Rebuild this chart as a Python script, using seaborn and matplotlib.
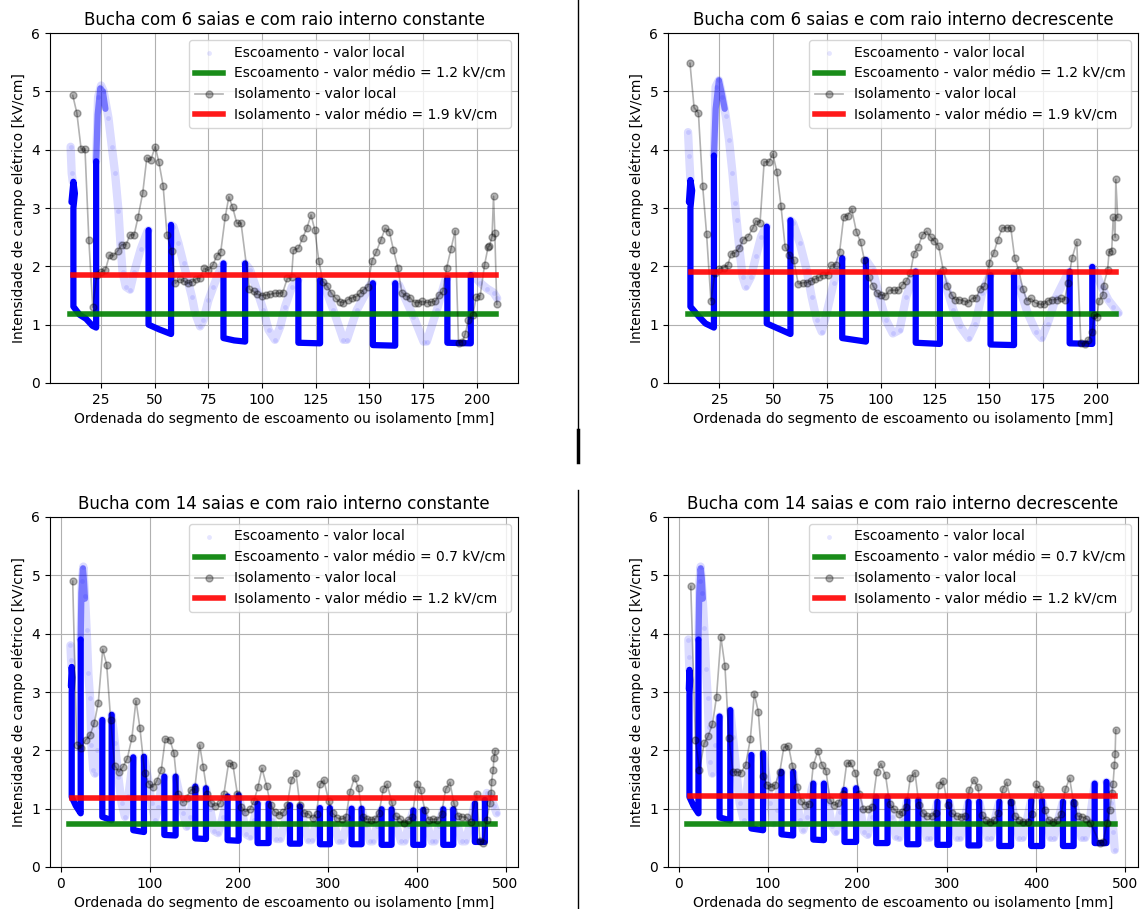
import numpy as np
import matplotlib
matplotlib.use("Agg")
import matplotlib.pyplot as plt
from matplotlib.lines import Line2D
import seaborn as sns

plt.rcParams["font.size"] = 10

titles = [
    "Bucha com 6 saias e com raio interno constante",
    "Bucha com 6 saias e com raio interno decrescente",
    "Bucha com 14 saias e com raio interno constante",
    "Bucha com 14 saias e com raio interno decrescente",
]
xlabel = "Ordenada do segmento de escoamento ou isolamento [mm]"
ylabel = "Intensidade de campo elétrico [kV/cm]"

# mean values (kV/cm)
esc_means = [1.18, 1.18, 0.73, 0.74]
iso_means = [1.86, 1.91, 1.18, 1.22]
top_esc_span = [10.6, 208.8]
top_iso_span = [12.0, 208.8]
bot_esc_span = [9.5, 488.2]
bot_iso_span = [13.0, 488.2]

# ---------------- 6 saias, raio constante ----------------
tl_iso = [(11.8, 4.93), (13.7, 4.63), (15.7, 4.01), (17.5, 4.01), (19.3, 2.45), (21.1, 1.30),
          (23.0, 1.86), (25.0, 1.90), (27.0, 1.94), (28.9, 2.19), (30.7, 2.18), (32.8, 2.27),
          (34.6, 2.37), (36.6, 2.37), (38.5, 2.54), (40.4, 2.54), (42.2, 2.84), (44.4, 3.26),
          (46.3, 3.86), (48.1, 3.82), (50.2, 4.05), (51.9, 3.79), (53.9, 3.38), (55.7, 2.54),
          (57.8, 2.26), (59.6, 1.71), (61.6, 1.78), (63.5, 1.75), (65.4, 1.71), (67.2, 1.73),
          (69.3, 1.79), (71.1, 1.80), (73.0, 1.97), (75.0, 1.93), (77.0, 2.02), (78.9, 2.18),
          (80.7, 2.24), (82.8, 2.84), (84.5, 3.19), (86.3, 3.01), (88.2, 2.74), (90.2, 2.74),
          (94.1, 1.61), (96.0, 1.57), (97.8, 1.52), (100.0, 1.50), (102.0, 1.51), (103.9, 1.52),
          (105.9, 1.54), (108.1, 1.54), (109.6, 1.55), (111.8, 1.80), (113.7, 1.81), (114.6, 2.28),
          (116.9, 2.31), (118.9, 2.49), (120.8, 2.65), (122.8, 2.88), (124.5, 2.63), (126.4, 2.10),
          (128.3, 1.74), (130.3, 1.66), (132.3, 1.54), (134.3, 1.45), (136.2, 1.39), (137.9, 1.38),
          (139.9, 1.43), (141.8, 1.46), (143.8, 1.48), (145.7, 1.54), (147.2, 1.60), (149.2, 1.65),
          (151.2, 2.10), (153.1, 2.24), (155.3, 2.45), (157.3, 2.65), (159.3, 2.59), (161.2, 2.28),
          (163.2, 1.98), (165.1, 1.55), (166.9, 1.50), (168.9, 1.46), (171.0, 1.38), (172.8, 1.38),
          (174.7, 1.40), (176.7, 1.38), (178.6, 1.39), (180.6, 1.40), (182.5, 1.51), (184.2, 1.57),
          (186.0, 1.98), (188.0, 2.30), (189.9, 2.61), (191.5, 0.69), (193.3, 0.71), (194.6, 0.84),
          (196.1, 1.08), (198.1, 1.16), (199.7, 1.47), (201.6, 1.50), (203.6, 2.02), (205.3, 2.34),
          (205.9, 2.35), (207.1, 2.51), (207.8, 3.20), (208.4, 2.58), (209.3, 1.35)]
tl_dense = [
    [(11.2, 3.1), (12.1, 3.45), (12.8, 3.25), (12.1, 3.0), (12.1, 1.31), (15.0, 1.17),
     (18.0, 1.10), (21.0, 0.98), (22.7, 0.95), (22.7, 3.8)],
    [(47.1, 2.62), (47.1, 1.00), (52.0, 0.92), (57.6, 0.84), (57.6, 2.71)],
    [(82.0, 2.05), (82.0, 0.77), (87.0, 0.73), (92.1, 0.71), (92.1, 2.05)],
    [(116.9, 1.77), (116.9, 0.69), (127.0, 0.68), (127.0, 1.77)],
    [(151.6, 1.71), (151.6, 0.65), (162.0, 0.64), (162.0, 1.71)],
    [(186.3, 1.80), (186.3, 0.69), (197.2, 0.68), (197.2, 1.85)],
]
tl_peak = [[(22.7, 3.8), (23.4, 4.6), (24.6, 5.05), (25.8, 5.0), (27.0, 4.7)]]
tl_sparse = [
    [(10.8, 4.05), (11.3, 3.6), (11.8, 3.45)],
    [(22.7, 3.8), (23.6, 4.9), (25.0, 5.1), (26.2, 5.0), (28.4, 4.55), (30.0, 4.05), (31.5, 3.6),
     (33.1, 2.95), (34.0, 2.4), (35.0, 1.9), (36.5, 1.65), (38.5, 1.6), (40.4, 1.9), (43.5, 2.3),
     (46.6, 2.6), (47.1, 2.62)],
    [(57.6, 2.71), (58.7, 2.68), (61.0, 2.4), (63.4, 2.05), (65.7, 1.71), (67.3, 1.48), (68.8, 1.2),
     (71.1, 0.97), (72.7, 1.08), (75.0, 1.42), (77.3, 1.65), (79.7, 1.88), (82.0, 2.05)],
    [(92.1, 2.05), (94.4, 1.94), (97.5, 1.6), (100.6, 1.25), (103.0, 0.91), (106.0, 0.74),
     (108.4, 0.96), (110.7, 1.31), (113.9, 1.65), (116.9, 1.77)],
    [(127.0, 1.77), (128.6, 1.71), (133.2, 1.25), (137.9, 0.74), (139.5, 0.74), (144.1, 1.25),
     (150.3, 1.68), (151.6, 1.71)],
    [(162.0, 1.71), (163.8, 1.68), (170.5, 1.14), (175.2, 0.71), (176.7, 0.71), (181.4, 1.25),
     (185.4, 1.77), (186.3, 1.80)],
    [(197.2, 1.85), (198.4, 1.85), (201.5, 1.72), (204.7, 1.62), (207.8, 1.55), (209.5, 1.45)],
]

# ---------------- 6 saias, raio decrescente ----------------
tr_iso = [(11.4, 5.48), (13.3, 4.72), (15.3, 4.63), (17.3, 3.37), (19.1, 2.55), (21.1, 1.41),
          (23.0, 1.89), (25.0, 1.96), (27.0, 1.98), (28.9, 2.02), (30.5, 2.22), (32.3, 2.23),
          (34.2, 2.31), (36.1, 2.46), (38.3, 2.51), (40.5, 2.65), (42.0, 2.78), (43.9, 2.75),
          (45.8, 3.79), (48.0, 3.79), (49.8, 3.93), (51.7, 3.62), (53.6, 3.04), (55.5, 2.34),
          (57.5, 2.19), (59.5, 2.11), (61.6, 1.70), (63.6, 1.72), (65.5, 1.72), (67.3, 1.75),
          (69.2, 1.78), (71.1, 1.81), (73.3, 1.85), (75.2, 1.85), (77.0, 2.02), (78.9, 2.03),
          (80.8, 2.25), (82.7, 2.85), (84.5, 2.87), (86.4, 2.98), (88.6, 2.59), (90.5, 2.42),
          (92.3, 2.11), (94.2, 1.82), (96.4, 1.66), (98.3, 1.54), (100.2, 1.51), (102.0, 1.50),
          (103.9, 1.59), (105.8, 1.59), (108.0, 1.59), (109.8, 1.68), (111.7, 1.75), (113.6, 1.88),
          (115.2, 2.21), (117.3, 2.34), (119.2, 2.54), (121.1, 2.60), (123.0, 2.50), (124.8, 2.43),
          (126.7, 2.35), (128.9, 1.93), (130.8, 1.67), (132.7, 1.51), (134.5, 1.43), (136.4, 1.43),
          (138.3, 1.41), (140.5, 1.38), (142.3, 1.45), (144.2, 1.46), (146.1, 1.62), (148.0, 1.66),
          (150.2, 2.06), (152.3, 2.23), (154.2, 2.46), (156.3, 2.66), (158.3, 2.66), (160.2, 2.66),
          (162.0, 2.14), (163.9, 1.93), (165.8, 1.61), (167.7, 1.41), (169.5, 1.45), (171.4, 1.38),
          (173.6, 1.35), (175.5, 1.35), (177.3, 1.41), (179.2, 1.43), (181.4, 1.43), (183.3, 1.45),
          (185.2, 1.43), (186.7, 1.71), (188.6, 2.14), (190.8, 2.42), (192.7, 0.68), (194.5, 0.67),
          (196.1, 0.74), (198.0, 0.88), (198.9, 1.17), (200.2, 1.13), (201.1, 1.41), (202.9, 1.51),
          (203.2, 1.67), (205.1, 1.94), (205.8, 2.25), (207.0, 2.26), (207.7, 2.84), (208.6, 2.50),
          (208.9, 3.49), (209.8, 2.84)]
tr_dense = [
    [(10.9, 3.1), (11.6, 3.48), (12.4, 3.3), (11.6, 3.0), (11.6, 1.31), (15.5, 1.14),
     (18.6, 1.02), (22.5, 0.95), (22.5, 3.9)],
    [(47.0, 2.68), (47.0, 1.02), (52.5, 0.93), (58.0, 0.84), (58.0, 2.79)],
    [(82.0, 2.14), (82.0, 0.77), (87.5, 0.74), (93.0, 0.71), (93.0, 2.11)],
    [(116.1, 1.91), (116.1, 0.69), (127.3, 0.67), (127.3, 1.88)],
    [(150.8, 1.85), (150.8, 0.66), (161.7, 0.65), (161.7, 1.85)],
    [(187.5, 1.91), (187.5, 0.68), (198.0, 0.67), (198.0, 1.99)],
]
tr_peak = [[(22.5, 3.9), (23.3, 4.7), (24.8, 5.19), (26.2, 4.95), (27.5, 4.7)]]
tr_sparse = [
    [(10.5, 4.3), (11.0, 3.9), (11.6, 3.48)],
    [(22.5, 3.9), (23.3, 5.08), (24.8, 5.19), (26.4, 4.91), (28.0, 4.57), (29.5, 4.17), (31.1, 3.6),
     (32.3, 3.08), (33.0, 2.8), (34.2, 2.34), (35.8, 1.82), (37.3, 1.65), (39.7, 1.82), (42.0, 2.17),
     (44.4, 2.51), (46.7, 2.68), (47.0, 2.68)],
    [(58.0, 2.79), (59.2, 2.74), (62.3, 2.4), (65.5, 1.94), (67.8, 1.48), (70.2, 1.08), (72.5, 0.88),
     (74.8, 1.2), (78.0, 1.71), (81.1, 2.11), (82.0, 2.14)],
    [(93.0, 2.11), (96.1, 1.94), (99.2, 1.48), (102.3, 1.08), (105.5, 0.85), (108.6, 0.91),
     (111.7, 1.48), (115.6, 1.88), (116.1, 1.91)],
    [(127.3, 1.88), (129.7, 1.71), (133.6, 1.25), (136.7, 0.97), (140.6, 0.77), (143.8, 1.02),
     (146.9, 1.54), (150.0, 1.82), (150.8, 1.85)],
    [(161.7, 1.85), (164.1, 1.65), (168.0, 1.2), (171.9, 0.88), (174.5, 0.77), (177.3, 1.02),
     (181.3, 1.48), (186.7, 1.88), (187.5, 1.91)],
    [(198.0, 1.99), (199.2, 1.94), (202.3, 1.65), (205.5, 1.42), (207.8, 1.31), (210.2, 1.2)],
]

# ---------------- 14 saias, raio constante ----------------
bl_iso = [(13.5, 4.90), (18.0, 2.10), (22.5, 2.04), (28.1, 2.18), (33.0, 2.26), (37.8, 2.47),
          (42.3, 2.82), (47.2, 3.73), (51.7, 3.47), (56.2, 2.52), (60.7, 1.74), (65.2, 1.63),
          (69.7, 1.71), (74.9, 1.86), (80.1, 2.22), (84.6, 2.85), (89.1, 2.38), (94.4, 1.61),
          (98.9, 1.43), (103.4, 1.37), (107.9, 1.47), (113.1, 1.67), (117.6, 2.20), (122.8, 2.18),
          (127.3, 1.95), (131.8, 1.26), (137.1, 1.11), (141.6, 1.19), (146.1, 1.32), (150.6, 1.33),
          (156.2, 2.09), (160.3, 1.71), (164.8, 1.26), (169.3, 1.09), (173.8, 1.05), (179.0, 1.09),
          (183.5, 1.26), (188.8, 1.79), (193.6, 1.75), (198.5, 1.26), (203.0, 1.03), (207.5, 0.95),
          (212.7, 0.99), (217.2, 1.13), (221.7, 1.37), (226.2, 1.69), (231.5, 1.39), (236.0, 1.06),
          (241.2, 0.94), (245.7, 0.90), (250.2, 0.94), (254.7, 1.07), (259.2, 1.49), (264.4, 1.62),
          (268.9, 1.06), (273.4, 0.92), (278.3, 0.91), (283.1, 0.84), (287.6, 0.91), (291.4, 1.42),
          (295.9, 1.49), (301.1, 1.14), (305.6, 0.92), (310.9, 0.84), (315.7, 0.82), (320.6, 0.85),
          (325.1, 1.29), (330.3, 1.53), (334.8, 1.35), (339.3, 0.86), (343.8, 0.82), (348.3, 0.81),
          (353.2, 0.82), (357.7, 0.92), (362.5, 1.33), (367.0, 1.42), (371.9, 1.12), (376.4, 0.87),
          (381.3, 0.83), (385.8, 0.76), (390.6, 0.81), (395.1, 0.85), (400.0, 1.42), (404.5, 1.32),
          (409.4, 0.97), (413.9, 0.81), (418.7, 0.82), (423.2, 0.81), (428.1, 0.91), (432.6, 1.33),
          (437.5, 1.45), (442.0, 1.09), (446.8, 0.87), (451.3, 0.86), (456.2, 0.85), (460.7, 0.77),
          (467.4, 1.26), (471.2, 0.45), (474.9, 0.42), (478.7, 0.81), (482.4, 1.09), (483.9, 1.27),
          (484.3, 1.46), (486.1, 1.66), (486.9, 1.87), (488.4, 1.99)]
bl_dense = [
    [(11.5, 3.1), (12.4, 3.43), (13.2, 3.25), (12.4, 3.0), (12.4, 1.2), (17.0, 1.05),
     (22.5, 0.92), (22.5, 3.9)],
    [(46.8, 2.52), (46.8, 0.86), (57.3, 0.80), (57.3, 2.61)],
    [(81.6, 1.88), (81.6, 0.63), (93.6, 0.60), (93.6, 1.89)],
    [(116.5, 1.55), (116.5, 0.55), (129.2, 0.54), (129.2, 1.55)],
    [(151.3, 1.38), (151.3, 0.49), (163.3, 0.48), (163.3, 1.35)],
    [(187.6, 1.21), (187.6, 0.46), (200.0, 0.45), (200.0, 1.23)],
    [(221.3, 1.09), (221.3, 0.41), (233.7, 0.41), (233.7, 1.09)],
    [(257.7, 1.06), (257.7, 0.40), (268.9, 0.40), (268.9, 1.04)],
    [(291.4, 1.01), (291.4, 0.39), (302.6, 0.39), (302.6, 1.01)],
    [(327.0, 1.00), (327.0, 0.39), (338.2, 0.39), (338.2, 1.00)],
    [(360.7, 0.99), (360.7, 0.38), (371.9, 0.38), (371.9, 0.99)],
    [(396.3, 0.97), (396.3, 0.38), (407.5, 0.38), (407.5, 0.98)],
    [(430.0, 0.99), (430.0, 0.38), (441.2, 0.38), (441.2, 0.99)],
    [(465.5, 1.09), (465.5, 0.43), (476.8, 0.43), (476.8, 1.15)],
]
bl_peak = [[(22.5, 3.9), (23.3, 4.7), (25.0, 5.12), (26.2, 4.9), (27.3, 4.6)]]
bl_sparse = [
    [(11.0, 3.8), (11.7, 3.55), (12.4, 3.43)],
    [(22.5, 3.9), (23.8, 4.9), (25.5, 5.15), (27.3, 4.65), (29.2, 4.06), (31.1, 3.32), (33.0, 2.9),
     (34.5, 2.1), (36.7, 1.66), (38.5, 1.6), (40.4, 2.0), (44.2, 2.4), (46.8, 2.52)],
    [(57.3, 2.61), (61.0, 2.12), (64.8, 1.55), (68.5, 1.09), (72.3, 0.86), (76.0, 1.21), (79.8, 1.66),
     (81.6, 1.88)],
    [(93.6, 1.89), (98.5, 1.49), (102.2, 1.09), (106.0, 0.81), (109.7, 1.03), (113.5, 1.43),
     (116.5, 1.55)],
    [(129.2, 1.55), (134.0, 1.21), (137.8, 0.92), (141.6, 0.69), (145.3, 0.86), (149.1, 1.21),
     (151.3, 1.38)],
    [(163.3, 1.35), (168.0, 1.0), (172.5, 0.62), (177.0, 0.58), (182.0, 0.85), (187.6, 1.21)],
    [(200.0, 1.23), (204.0, 0.95), (208.5, 0.56), (213.0, 0.52), (217.0, 0.8), (221.3, 1.09)],
    [(233.7, 1.09), (238.0, 0.8), (242.5, 0.48), (247.0, 0.48), (251.5, 0.75), (257.7, 1.06)],
    [(268.9, 1.04), (273.5, 0.75), (278.5, 0.46), (282.0, 0.46), (286.5, 0.72), (291.4, 1.01)],
    [(302.6, 1.01), (307.5, 0.73), (312.5, 0.45), (316.5, 0.45), (321.5, 0.72), (327.0, 1.0)],
    [(338.2, 1.0), (343.0, 0.72), (347.5, 0.44), (351.0, 0.44), (355.5, 0.7), (360.7, 0.99)],
    [(371.9, 0.99), (377.0, 0.72), (382.5, 0.44), (386.5, 0.44), (391.0, 0.7), (396.3, 0.97)],
    [(407.5, 0.98), (412.0, 0.72), (417.0, 0.44), (420.5, 0.44), (425.0, 0.7), (430.0, 0.99)],
    [(441.2, 0.99), (446.0, 0.72), (451.0, 0.44), (455.0, 0.44), (460.0, 0.72), (465.5, 1.09)],
    [(476.8, 1.15), (479.0, 1.27), (483.0, 1.2), (487.0, 1.05), (490.0, 0.92)],
]

# ---------------- 14 saias, raio decrescente ----------------
br_iso = [(13.5, 4.81), (18.7, 2.18), (23.2, 1.67), (28.5, 2.12), (33.0, 2.25), (37.8, 2.45),
          (42.3, 2.92), (47.2, 3.94), (51.7, 3.45), (56.2, 2.22), (60.7, 1.63), (65.2, 1.63),
          (69.7, 1.62), (74.9, 1.75), (80.1, 2.19), (84.6, 2.97), (89.1, 2.66), (94.4, 1.56),
          (98.9, 1.41), (103.4, 1.37), (107.9, 1.41), (113.1, 1.63), (117.6, 2.05), (122.8, 2.08),
          (127.3, 1.73), (132.6, 1.38), (137.1, 1.14), (141.6, 1.07), (146.1, 1.08), (150.6, 1.75),
          (155.8, 1.99), (160.3, 1.75), (164.8, 1.65), (169.3, 1.15), (173.8, 1.06), (178.3, 1.09),
          (183.5, 1.25), (188.0, 1.78), (192.5, 1.78), (197.8, 1.61), (202.2, 1.26), (206.7, 0.99),
          (212.0, 0.99), (216.5, 1.03), (221.7, 1.63), (226.2, 1.77), (231.5, 1.57), (236.0, 1.08),
          (241.2, 0.99), (246.4, 0.91), (250.2, 0.95), (254.7, 1.03), (259.2, 1.53), (264.4, 1.62),
          (268.9, 1.06), (273.4, 0.92), (278.3, 0.87), (283.1, 0.87), (287.6, 0.93), (291.4, 1.40),
          (295.9, 1.48), (301.1, 1.06), (305.6, 0.92), (310.9, 0.87), (315.7, 0.86), (320.6, 0.87),
          (325.1, 1.32), (330.3, 1.50), (334.8, 1.37), (339.3, 0.89), (343.8, 0.81), (348.3, 0.78),
          (353.2, 0.81), (357.7, 0.92), (362.5, 1.33), (367.0, 1.45), (371.9, 1.12), (376.4, 0.87),
          (381.3, 0.81), (385.8, 0.78), (390.6, 0.78), (395.1, 0.91), (400.0, 1.42), (404.5, 1.33),
          (409.4, 0.98), (413.9, 0.81), (418.7, 0.78), (423.2, 0.81), (428.1, 0.91), (432.6, 1.33),
          (437.5, 1.52), (442.0, 1.09), (446.8, 0.87), (451.3, 0.86), (456.2, 0.83), (460.7, 0.76),
          (471.2, 0.41), (474.9, 0.43), (479.4, 0.75), (482.4, 0.98), (484.6, 1.27), (486.1, 1.43),
          (487.6, 1.75), (488.4, 1.93), (489.1, 2.35)]
br_dense = [
    [(11.3, 3.05), (12.0, 3.38), (12.8, 3.2), (12.0, 2.95), (12.0, 1.2), (16.5, 1.05),
     (22.1, 0.92), (22.1, 3.9)],
    [(45.7, 2.58), (45.7, 0.85), (57.7, 0.80), (57.7, 2.69)],
    [(81.3, 1.92), (81.3, 0.66), (94.4, 0.63), (94.4, 1.95)],
    [(115.0, 1.63), (115.0, 0.56), (128.1, 0.54), (128.1, 1.63)],
    [(150.6, 1.43), (150.6, 0.47), (162.5, 0.46), (162.5, 1.43)],
    [(185.5, 1.32), (185.5, 0.43), (198.5, 0.43), (198.5, 1.35)],
    [(221.0, 1.20), (221.0, 0.41), (233.7, 0.41), (233.7, 1.20)],
    [(255.8, 1.15), (255.8, 0.39), (268.2, 0.39), (268.2, 1.15)],
    [(289.5, 1.12), (289.5, 0.38), (302.6, 0.38), (302.6, 1.12)],
    [(324.3, 1.12), (324.3, 0.37), (336.3, 0.37), (336.3, 1.12)],
    [(358.8, 1.12), (358.8, 0.36), (371.9, 0.36), (371.9, 1.12)],
    [(394.4, 1.14), (394.4, 0.36), (406.7, 0.36), (406.7, 1.14)],
    [(430.0, 1.12), (430.0, 0.36), (442.0, 0.36), (442.0, 1.12)],
    [(465.5, 1.43), (465.5, 0.41), (478.7, 0.41), (478.7, 1.46)],
]
br_peak = [[(22.1, 3.9), (23.0, 4.7), (24.5, 5.12), (25.8, 4.95), (27.0, 4.6)]]
br_sparse = [
    [(10.8, 3.9), (11.4, 3.6), (12.0, 3.38)],
    [(22.1, 3.9), (23.3, 4.9), (24.5, 5.15), (26.5, 4.7), (28.5, 4.1), (30.5, 3.4), (32.5, 2.9),
     (33.5, 2.4), (35.5, 1.8), (37.5, 1.6), (40.1, 2.1), (43.8, 2.4), (45.7, 2.58)],
    [(57.7, 2.69), (60.7, 2.23), (64.4, 1.66), (68.2, 1.09), (72.7, 0.81), (75.7, 1.21), (79.4, 1.77),
     (81.3, 1.92)],
    [(94.4, 1.95), (98.1, 1.55), (102.6, 1.09), (106.4, 0.75), (110.1, 0.98), (113.9, 1.55),
     (115.0, 1.63)],
    [(128.1, 1.63), (130.0, 1.35), (135.6, 0.81), (139.3, 0.63), (143.8, 0.86), (148.7, 1.32),
     (150.6, 1.43)],
    [(162.5, 1.43), (167.0, 1.1), (171.5, 0.7), (176.0, 0.6), (181.0, 0.95), (185.5, 1.32)],
    [(198.5, 1.35), (203.0, 1.0), (207.5, 0.6), (211.5, 0.55), (216.0, 0.85), (221.0, 1.20)],
    [(233.7, 1.20), (238.5, 0.85), (243.0, 0.52), (247.0, 0.5), (251.0, 0.8), (255.8, 1.15)],
    [(268.2, 1.15), (273.0, 0.82), (277.5, 0.5), (281.0, 0.5), (285.0, 0.8), (289.5, 1.12)],
    [(302.6, 1.12), (307.0, 0.8), (311.5, 0.5), (315.0, 0.5), (319.5, 0.8), (324.3, 1.12)],
    [(336.3, 1.12), (341.0, 0.8), (345.5, 0.5), (349.0, 0.5), (353.5, 0.8), (358.8, 1.12)],
    [(371.9, 1.12), (376.5, 0.8), (381.0, 0.5), (385.0, 0.5), (389.5, 0.8), (394.4, 1.14)],
    [(406.7, 1.14), (411.5, 0.8), (416.0, 0.5), (420.0, 0.5), (424.5, 0.8), (430.0, 1.12)],
    [(442.0, 1.12), (446.5, 0.8), (451.0, 0.5), (455.0, 0.5), (460.0, 0.8), (465.5, 1.43)],
    [(478.7, 1.46), (481.6, 1.43), (484.0, 1.1), (486.5, 0.6), (488.0, 0.29)],
]


def join(segments):
    xs, ys = [], []
    for seg in segments:
        for x, y in seg:
            xs.append(x)
            ys.append(y)
        xs.append(np.nan)
        ys.append(np.nan)
    return np.array(xs), np.array(ys)


def draw(ax, title, dense, peak, sparse, iso, esc_m, iso_m, esc_span, iso_span, xlim):
    sx, sy = join(sparse)
    ax.plot(sx, sy, color="blue", lw=6, alpha=0.14, solid_capstyle="round", solid_joinstyle="round")
    px, py = join(peak)
    ax.plot(px, py, color="blue", lw=4.5, alpha=0.45, solid_capstyle="round", solid_joinstyle="round")
    dx, dy = join(dense)
    ax.plot(dx, dy, color="blue", lw=4.5, solid_capstyle="round", solid_joinstyle="round")
    sns.scatterplot(x=sx, y=sy, color="blue", alpha=0.1, s=12, linewidth=0,
                    label="Escoamento - valor local", ax=ax)
    sns.lineplot(x=esc_span, y=[esc_m, esc_m], color="g", linewidth=4, alpha=0.9,
                 label=f"Escoamento - valor médio = {esc_m:.1f} kV/cm", ax=ax)
    ix, iy = zip(*iso)
    sns.lineplot(x=list(ix), y=list(iy), color="k", alpha=0.3, marker="o", markersize=5,
                 markeredgecolor="k", markeredgewidth=1, linewidth=1.2, sort=False, estimator=None,
                 label="Isolamento - valor local", ax=ax)
    sns.lineplot(x=iso_span, y=[iso_m, iso_m], color="r", linewidth=4, alpha=0.9,
                 label=f"Isolamento - valor médio = {iso_m:.1f} kV/cm", ax=ax)
    ax.set_xlim(*xlim)
    ax.set_ylim(0, 6)
    ax.grid(True)
    ax.set_title(title, fontsize=12)
    ax.set_xlabel(xlabel)
    ax.set_ylabel(ylabel)
    ax.legend(loc="upper right", fontsize=10)


fig = plt.figure(figsize=(11.41, 9.09), dpi=100)
W, H = 1141, 909
boxes = [(50, 33, 518, 383), (668, 33, 1138, 383), (50, 517, 518, 867), (668, 517, 1138, 867)]
axes = [fig.add_axes([l / W, 1 - b / H, (r - l) / W, (b - t) / H]) for l, t, r, b in boxes]

draw(axes[0], titles[0], tl_dense, tl_peak, tl_sparse, tl_iso, esc_means[0], iso_means[0],
     top_esc_span, top_iso_span, (1.2, 219.2))
draw(axes[1], titles[1], tr_dense, tr_peak, tr_sparse, tr_iso, esc_means[1], iso_means[1],
     top_esc_span, top_iso_span, (1.2, 219.2))
draw(axes[2], titles[2], bl_dense, bl_peak, bl_sparse, bl_iso, esc_means[2], iso_means[2],
     bot_esc_span, bot_iso_span, (-12, 514))
draw(axes[3], titles[3], br_dense, br_peak, br_sparse, br_iso, esc_means[3], iso_means[3],
     bot_esc_span, bot_iso_span, (-12, 514))

# separator between the left and right figures
xs = 578 / W
fig.add_artist(Line2D([xs, xs], [1, 1 - 430 / H], transform=fig.transFigure, color="k", lw=1))
fig.add_artist(Line2D([xs, xs], [1 - 430 / H, 1 - 462 / H], transform=fig.transFigure, color="k", lw=2.5))
fig.add_artist(Line2D([xs, xs], [1 - 490 / H, 0], transform=fig.transFigure, color="k", lw=1))

fig.savefig("out.png", dpi=100)
